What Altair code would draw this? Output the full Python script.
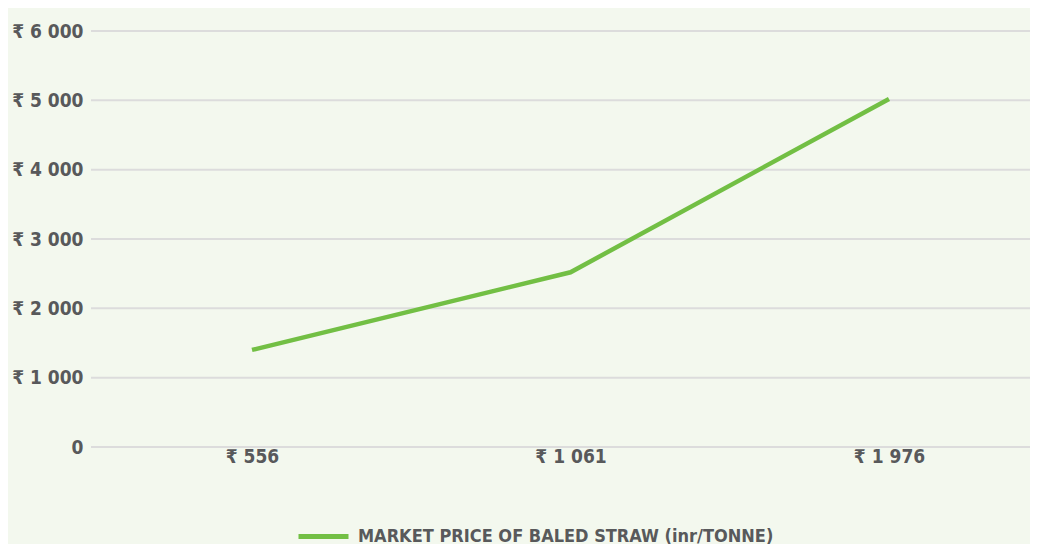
import altair as alt
import pandas as pd

categories = ["₹ 556", "₹ 1 061", "₹ 1 976"]
values = [1400, 2520, 5020]
series_name = "MARKET PRICE OF BALED STRAW (inr/TONNE)"
y_ticks = [0, 1000, 2000, 3000, 4000, 5000, 6000]

df = pd.DataFrame({"cat": categories, "val": values, "series": [series_name] * len(categories)})
grid_df = pd.DataFrame({"val": y_ticks})

FONT = "DejaVu Sans Condensed, Roboto, sans-serif"
TXT = "#58595b"
W, H = 939, 416

y_scale = alt.Scale(domain=[0, 6000], nice=False)

grid = alt.Chart(grid_df).mark_rule(color="#dcdcdc", strokeWidth=2).encode(
    y=alt.Y("val:Q", title=None, scale=y_scale,
            axis=alt.Axis(values=y_ticks, domain=False, ticks=False, grid=False, labelPadding=8,
                          labelExpr="datum.value == 0 ? '0' : '₹ ' + replace(format(datum.value, ','), ',', ' ')")),
    x=alt.value(0), x2=alt.value(W),
)

line = alt.Chart(df).mark_line(strokeWidth=4.5, strokeCap="butt").encode(
    x=alt.X("cat:N", sort=categories, title=None,
            scale=alt.Scale(type="point", padding=0, range=[161, 798]),
            axis=alt.Axis(domain=False, ticks=False, grid=False, labelAngle=0,
                          labelPadding=0, labelBaseline="top")),
    y=alt.Y("val:Q", title=None, scale=y_scale),
    color=alt.Color("series:N", title=None,
                    scale=alt.Scale(range=["#72bf44"]),
                    legend=alt.Legend(orient="none", legendX=205, legendY=478,
                                      symbolType="stroke", symbolSize=2500, symbolStrokeWidth=5,
                                      padding=0, labelFontSize=18, labelFont=FONT, labelLimit=800,
                                      labelFontWeight="bold", labelColor=TXT, labelOffset=7)),
)

chart = alt.layer(grid, line).properties(
    width=W, height=H,
    autosize=alt.AutoSizeParams(type="none"),
    padding={"left": 83, "top": 23, "right": 0, "bottom": 97},
    background="#f3f8ee",
).configure_view(stroke=None).configure_axis(
    labelFont=FONT, labelFontSize=19, labelFontWeight="bold", labelColor=TXT,
)

chart.save("out.html", embed_options={"renderer": "svg", "actions": False})
